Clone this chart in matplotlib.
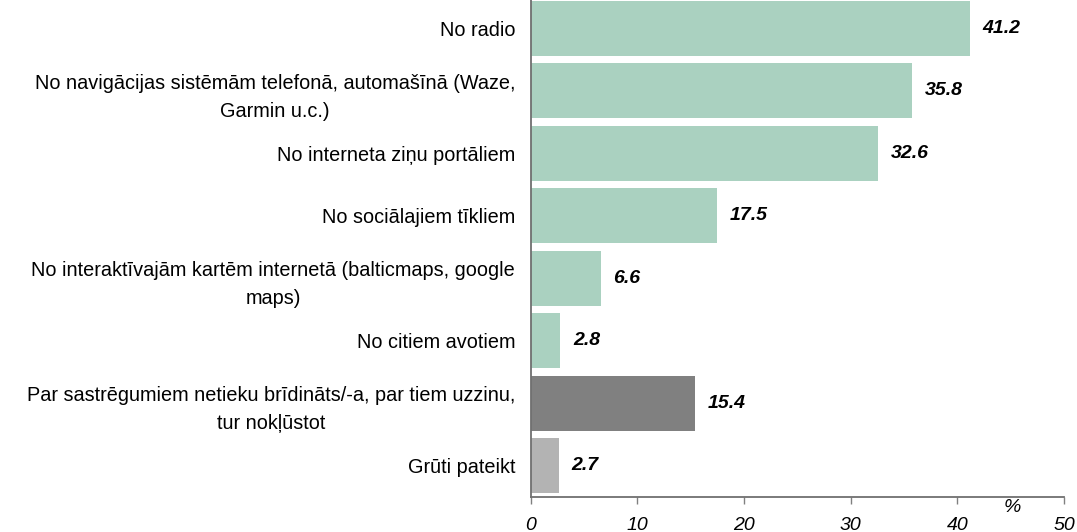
import matplotlib
matplotlib.use("Agg")
import matplotlib.pyplot as plt

plt.rcParams['font.family'] = ['Liberation Sans', 'DejaVu Sans']

categories = [
    "No radio",
    "No navigācijas sistēmām telefonā, automašīnā (Waze,\nGarmin u.c.)",
    "No interneta ziņu portāliem",
    "No sociālajiem tīkliem",
    "No interaktīvajām kartēm internetā (balticmaps, google\nmaps)",
    "No citiem avotiem",
    "Par sastrēgumiem netieku brīdināts/-a, par tiem uzzinu,\ntur nokļūstot",
    "Grūti pateikt",
]
values = [41.2, 35.8, 32.6, 17.5, 6.6, 2.8, 15.4, 2.7]
colors = ["#AAD1C0"] * 6 + ["#808080", "#B3B3B3"]
xticks = [0, 10, 20, 30, 40, 50]

W, H = 1077, 532
fig = plt.figure(figsize=(W / 100, H / 100), dpi=100)
x0, x1 = 530.5, 1064
ybot = 497
ytop = -3
ax = fig.add_axes([x0 / W, (H - ybot) / H, (x1 - x0) / W, (ybot - ytop) / H])

n = len(categories)
ypos = list(range(n))
ax.barh(ypos, values, height=0.88, color=colors, zorder=2)
ax.set_ylim(n - 0.5, -0.5)
ax.set_xlim(0, 50)

ax.set_yticks(ypos)
ax.set_yticklabels(categories, fontsize=14.3, linespacing=1.6)
for lbl in ax.get_yticklabels():
    lbl.set_multialignment('center')
ax.tick_params(axis='y', length=0, pad=11)

ax.set_xticks(xticks)
ax.set_xticklabels([str(t) for t in xticks], fontsize=14, fontstyle='italic')
ax.tick_params(axis='x', direction='out', length=5, width=1, color='#808080', pad=9.5)

for s in ['top', 'right']:
    ax.spines[s].set_visible(False)
for s in ['left', 'bottom']:
    ax.spines[s].set_color('#707070')
    ax.spines[s].set_linewidth(1.3)

for y, v in zip(ypos, values):
    ax.annotate(f"{v:.1f}", xy=(v, y), xytext=(9, 0), textcoords='offset points',
                ha='left', va='center', fontsize=14, fontweight='bold', fontstyle='italic')

fig.text(1012 / W, 1 - 508 / H, "%", fontsize=14, fontstyle='italic', ha='center', va='center')

fig.savefig("out.png", dpi=100)
